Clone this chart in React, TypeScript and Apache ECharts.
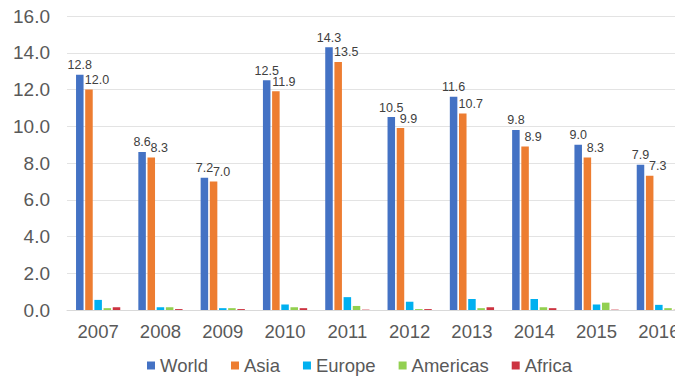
import React, { useEffect, useRef } from "react";
import * as echarts from "echarts";

const years = ["2007", "2008", "2009", "2010", "2011", "2012", "2013", "2014", "2015", "2016"];
const world = [12.8, 8.6, 7.2, 12.5, 14.3, 10.5, 11.6, 9.8, 9.0, 7.9];
const asia = [12.0, 8.3, 7.0, 11.9, 13.5, 9.9, 10.7, 8.9, 8.3, 7.3];
const europe = [0.55, 0.15, 0.1, 0.3, 0.7, 0.45, 0.6, 0.6, 0.3, 0.28];
const americas = [0.1, 0.15, 0.1, 0.15, 0.22, 0.05, 0.1, 0.15, 0.4, 0.1];
const africa = [0.15, 0.05, 0.05, 0.1, 0.02, 0.05, 0.15, 0.1, 0.02, 0.02];

const COLORS = {
  World: "#4472C4",
  Asia: "#ED7D31",
  Europe: "#00B0F0",
  Americas: "#92D050",
  Africa: "#CC3340",
};

export default function App() {
  const ref = useRef<HTMLDivElement>(null);
  useEffect(() => {
    if (!ref.current) return;
    const chart = echarts.init(ref.current, null, { renderer: "svg" });
    const labelStyle = {
      show: true,
      position: "top" as const,
      distance: 3,
      fontSize: 12.5,
      color: "#404040",
      fontFamily: "Liberation Sans, Arial, sans-serif",
      formatter: (p: any) => Number(p.value).toFixed(1),
    };
    const mk = (name: string, data: number[], label?: any) => ({
      name,
      type: "bar" as const,
      data,
      barGap: "22%",
      barCategoryGap: "29%",
      itemStyle: { color: (COLORS as any)[name] },
      label: label || { show: false },
    });
    chart.setOption({
      animation: false,
      textStyle: { fontFamily: "Liberation Sans, Arial, sans-serif" },
      grid: { left: 67, right: 10, top: 16, bottom: 67 },
      xAxis: {
        type: "category",
        data: years,
        axisLine: { show: true, lineStyle: { color: "#d9d9d9", width: 1 } },
        axisTick: { show: false },
        axisLabel: { fontSize: 18.5, color: "#595959", margin: 12 },
      },
      yAxis: {
        type: "value",
        min: 0,
        max: 16,
        interval: 2,
        axisLine: { show: false },
        axisTick: { show: false },
        splitLine: { lineStyle: { color: "#e3e3e3", width: 1 } },
        axisLabel: {
          fontSize: 19,
          color: "#595959",
          margin: 17,
          formatter: (v: number) => v.toFixed(1),
        },
      },
      legend: {
        left: 147,
        top: 356,
        padding: 0,
        itemWidth: 8,
        itemHeight: 8,
        itemGap: 23,
        icon: "rect",
        textStyle: { fontSize: 18.5, color: "#595959" },
        data: ["World", "Asia", "Europe", "Americas", "Africa"],
      },
      series: [
        mk("World", world, labelStyle),
        mk("Asia", asia, { ...labelStyle, offset: [8, 0] }),
        mk("Europe", europe),
        mk("Americas", americas),
        mk("Africa", africa),
      ],
    });
    return () => chart.dispose();
  }, []);
  return (
    <div style={{ position: "absolute", left: 0, top: 0, width: 675, height: 377, overflow: "hidden", background: "#fff" }}>
      <div ref={ref} style={{ width: 700, height: 377 }} />
    </div>
  );
}
